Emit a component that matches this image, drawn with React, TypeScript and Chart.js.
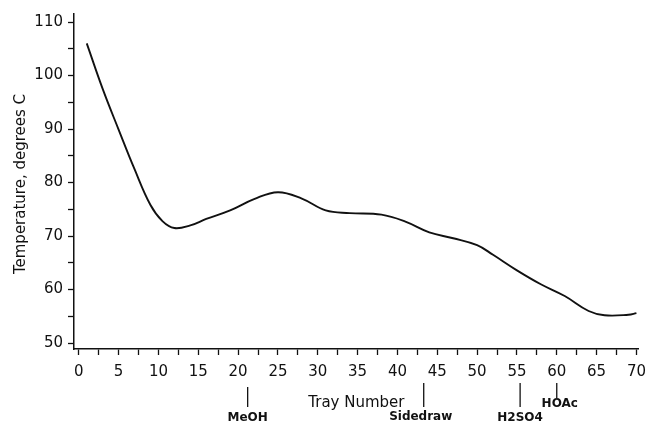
import React, { useEffect, useRef } from "react";
import { Chart, registerables } from "chart.js";

Chart.register(...registerables);

const trays = [1, 3, 5, 7, 9, 10.5, 12, 14, 16, 19, 22, 25, 28, 31, 34, 38, 41, 44, 47, 50, 52, 55, 58, 61, 64, 66, 69, 70];
const temps = [106, 97.5, 89.9, 82.5, 75.8, 72.8, 71.5, 72.0, 73.2, 74.8, 76.9, 78.2, 77.0, 74.8, 74.3, 74.0, 72.7, 70.7, 69.6, 68.3, 66.5, 63.6, 61.0, 58.8, 56.0, 55.2, 55.3, 55.6];

const xTickValues = [0, 2.5, 5, 7.5, 10, 12.5, 15, 17.5, 20, 22.5, 25, 27.5, 30, 32.5, 35, 37.5, 40, 42.5, 45, 47.5, 50, 52.5, 55, 57.5, 60, 62.5, 65, 67.5, 70];
const yTickValues = [50, 55, 60, 65, 70, 75, 80, 85, 90, 95, 100, 105, 110];

const markerNames = ["MeOH", "Sidedraw", "H2SO4", "HOAc"];
const markerTrays = [21.2, 43.3, 55.4, 60];

const xTitle = "Tray Number";
const yTitle = "Temperature, degrees C";

const FONT = "'DejaVu Sans', sans-serif";

const annotationPlugin = {
  id: "annotations",
  afterDraw(chart: any) {
    const ctx = chart.ctx;
    const xs = chart.scales.x;
    const area = chart.chartArea;
    ctx.save();
    ctx.fillStyle = "#111";
    ctx.strokeStyle = "#111";
    ctx.font = `15px ${FONT}`;
    ctx.textAlign = "center";
    ctx.textBaseline = "middle";
    ctx.fillText(xTitle, (area.left + area.right) / 2, 403);
    ctx.save();
    ctx.translate(21, 184);
    ctx.rotate(-Math.PI / 2);
    ctx.fillText(yTitle, 0, 0);
    ctx.restore();
    const lineTop = [387, 383, 383, 383];
    const lineBottom = [407, 407, 407, 398];
    const labelY = [418, 417, 418, 404];
    ctx.font = `bold 12px ${FONT}`;
    ctx.lineWidth = 1.3;
    markerNames.forEach((name, i) => {
      const px = xs.getPixelForValue(markerTrays[i]);
      ctx.beginPath();
      ctx.moveTo(px, lineTop[i]);
      ctx.lineTo(px, lineBottom[i]);
      ctx.stroke();
      ctx.fillText(name, px + (i === 3 ? 3 : i === 1 ? -3 : 0), labelY[i]);
    });
    ctx.restore();
  },
};

export default function App() {
  const ref = useRef<HTMLCanvasElement | null>(null);
  useEffect(() => {
    document.body.style.margin = "0";
    const canvas = ref.current;
    if (!canvas) return;
    const chart = new Chart(canvas, {
      type: "line",
      data: {
        datasets: [
          {
            data: trays.map((t, i) => ({ x: t, y: temps[i] })),
            borderColor: "#111",
            borderWidth: 1.9,
            pointRadius: 0,
            fill: false,
            tension: 0.4,
          },
        ],
      },
      options: {
        animation: false,
        responsive: false,
        maintainAspectRatio: false,
        layout: { padding: { top: 9, right: 9, left: 0, bottom: 0 } },
        plugins: { legend: { display: false }, tooltip: { enabled: false }, title: { display: false } },
        scales: {
          x: {
            type: "linear",
            min: -0.6,
            max: 70.3,
            afterFit: (s: any) => {
              s.height = 77;
            },
            afterBuildTicks: (s: any) => {
              s.ticks = xTickValues.map((v) => ({ value: v }));
            },
            border: { display: true, color: "#111", width: 1.5 },
            grid: { display: true, drawOnChartArea: false, drawTicks: true, tickLength: 6, color: "#111", tickColor: "#111", tickWidth: 1.3 },
            ticks: {
              autoSkip: false,
              maxRotation: 0,
              padding: 8,
              color: "#111",
              font: { family: FONT, size: 15 },
              callback: (v: any) => (Number(v) % 5 === 0 ? String(v) : ""),
            },
          },
          y: {
            type: "linear",
            min: 48.9,
            max: 111.5,
            afterFit: (s: any) => {
              s.width = 74;
            },
            afterBuildTicks: (s: any) => {
              s.ticks = yTickValues.map((v) => ({ value: v }));
            },
            border: { display: true, color: "#111", width: 1.5 },
            grid: { display: true, drawOnChartArea: false, drawTicks: true, tickLength: 6, color: "#111", tickColor: "#111", tickWidth: 1.3 },
            ticks: {
              autoSkip: false,
              padding: 5,
              color: "#111",
              font: { family: FONT, size: 15 },
              callback: (v: any) => (Number(v) % 10 === 0 ? String(v) : ""),
            },
          },
        },
      },
      plugins: [annotationPlugin],
    } as any);
    return () => chart.destroy();
  }, []);
  return (
    <div style={{ position: "absolute", left: 0, top: 0, width: 654, height: 426, background: "#fff" }}>
      <canvas ref={ref} width={654} height={426} style={{ display: "block" }} />
    </div>
  );
}
